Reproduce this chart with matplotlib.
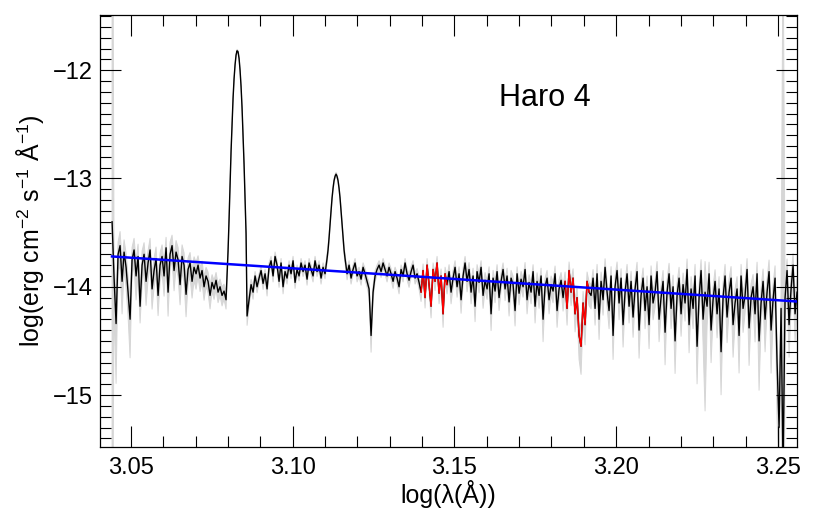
#!/usr/bin/env python3
"""Haro 4 spectrum: log flux vs log wavelength, with error band,
masked regions in red and the continuum fit in blue."""
import numpy as np
import matplotlib; matplotlib.use("Agg")
import matplotlib.pyplot as plt
from matplotlib.ticker import MultipleLocator

plt.rcParams["font.family"] = ["Liberation Sans", "DejaVu Sans"]
plt.rcParams["mathtext.fontset"] = "custom"
plt.rcParams["mathtext.rm"] = "Liberation Sans"
plt.rcParams["mathtext.it"] = "Liberation Sans:italic"

# --- spectrum pieces: (log lambda start, end), log flux, rel. error in %
rng_a = (3.04413, 3.07937)
flux_a = [-13.40, -13.92, -14.34, -13.70, -13.62, -13.95, -13.68, -13.82, -14.05, -14.30,
          -13.75, -13.66, -13.90, -13.72, -14.18, -13.80, -13.70, -13.95, -13.78, -13.66,
          -14.02, -13.85, -13.74, -14.08, -13.80, -13.72, -13.90, -13.64, -14.05, -13.70,
          -13.62, -13.85, -13.68, -13.75, -13.98, -13.72, -13.80, -14.07, -13.84, -13.78,
          -13.95, -13.82, -13.88, -13.80, -13.92, -13.85, -14.00, -13.90, -13.95, -14.08,
          -13.96, -14.02, -13.94, -14.05, -14.00, -14.08, -14.04, -14.12]
err_a = [1e7, 40, 72, 30, 35, 50, 30, 35, 40, 56,
         30, 28, 40, 30, 30, 35, 28, 40, 30, 28,
         35, 30, 28, 35, 30, 28, 35, 25, 40, 30,
         25, 35, 28, 30, 35, 28, 30, 38, 28, 25,
         30, 25, 28, 22, 25, 22, 25, 20, 22, 25,
         18, 20, 18, 20, 18, 20, 16, 18]

rng_l1 = (3.07999, 3.08556)
flux_l1 = [-13.67, -13.38, -13.05, -12.75, -12.50, -12.26, -12.08, -11.95, -11.86, -11.82,
           -11.83, -11.89, -12.00, -12.15, -12.35, -12.60, -12.87, -13.19, -13.51]
err_l1 = [10, 8, 6, 5, 4, 4, 3, 3, 3, 3, 3, 3, 3, 4, 4, 5, 6, 8, 10]

rng_b = (3.08587, 3.10998)
flux_b = [-14.27, -14.12, -13.98, -14.05, -13.90, -14.00, -13.92, -13.85, -13.97, -13.88,
          -14.02, -13.82, -13.76, -13.90, -13.72, -13.80, -13.95, -13.78, -14.00, -13.86,
          -13.92, -13.80, -13.88, -13.76, -13.96, -13.84, -13.90, -13.78, -13.86, -13.80,
          -13.93, -13.78, -13.84, -13.90, -13.76, -13.86, -13.80, -13.92, -13.82, -13.88]
err_b = [18, 14, 12, 14, 10, 12, 10, 10, 12, 10,
         14, 10, 10, 12, 10, 10, 12, 10, 14, 10,
         12, 10, 10, 10, 12, 10, 10, 10, 10, 10,
         12, 10, 10, 12, 10, 10, 10, 12, 10, 10]

rng_l2 = (3.11060, 3.11617)
flux_l2 = [-13.74, -13.66, -13.55, -13.42, -13.30, -13.18, -13.09, -13.02, -12.98, -12.96,
           -12.98, -13.02, -13.09, -13.18, -13.30, -13.42, -13.55, -13.66, -13.74]
err_l2 = [10, 9, 8, 7, 6, 5, 5, 4, 4, 4, 4, 4, 5, 5, 6, 7, 8, 9, 10]

rng_c = (3.11679, 3.25593)
flux_c = [-13.88, -13.80, -13.92, -13.84, -13.78, -13.90, -13.86, -13.93, -13.82, -13.88,
          -13.95, -14.02, -14.45, -14.05, -13.90, -13.84, -13.80, -13.86, -13.78, -13.84,
          -13.90, -13.82, -13.88, -13.95, -13.86, -13.92, -14.00, -13.84, -13.90, -13.78,
          -13.88, -13.94, -13.86, -13.80, -13.92, -13.88, -13.96,
          # first masked window
          -14.05, -13.85, -14.10, -13.80, -13.98, -14.18, -13.84, -13.95, -13.78, -14.06,
          -13.90, -14.25, -13.88, -13.98,
          -13.86, -14.05, -13.92, -13.82, -14.00, -13.88, -14.12, -13.90, -13.78, -13.95,
          -13.84, -14.05, -13.90, -14.18, -13.86, -13.96, -13.82, -14.08, -13.94, -14.02,
          -13.88, -14.25, -13.92, -14.04, -13.86, -14.10, -13.95, -13.84, -14.02, -13.90,
          -14.14, -13.92, -13.98, -14.22, -13.88, -14.06, -13.93, -14.00, -13.84, -14.12,
          -13.96, -14.05, -13.86, -14.18, -13.95, -14.08, -13.90, -14.30, -14.00, -13.92,
          -14.12, -13.98, -14.04, -13.88, -14.22, -14.02, -13.94, -14.10,
          # second masked window
          -13.95, -14.20, -13.85, -14.05, -13.92, -14.25, -14.10, -14.45, -14.55, -14.15,
          -14.35, -13.95, -14.05,
          -14.08, -13.92, -14.20, -13.88, -14.30, -13.95, -14.12, -13.82, -14.05, -14.22,
          -13.90, -14.45, -14.00, -13.85, -14.15, -13.92, -14.35, -14.05, -13.88, -14.18,
          -13.95, -14.28, -14.02, -13.86, -14.40, -14.08, -13.92, -14.22, -14.00, -14.35,
          -13.90, -14.15, -14.05, -13.86, -14.30, -14.10, -13.95, -14.42, -14.05, -13.88,
          -14.20, -14.00, -14.50, -14.08, -13.92, -14.25, -13.98, -14.15, -13.84, -14.35,
          -14.02, -14.20, -13.90, -14.55, -14.10, -13.85, -14.30, -14.05, -14.18, -13.88,
          -14.40, -14.12, -13.95, -14.25, -14.02, -14.60, -14.10, -13.90, -14.28, -14.05,
          -13.92, -14.35, -14.15, -14.02, -14.45, -13.90, -14.20, -14.08, -13.84, -14.38,
          -14.10, -14.00, -14.25, -13.88, -14.50, -14.15, -13.95, -14.30, -14.05, -13.86,
          -14.40, -14.12, -13.92, -14.70, -15.30, -14.20, -15.70, -14.10, -13.85, -14.35,
          -14.02, -13.80, -14.25, -14.05]
err_c = [12, 10, 12, 10, 10, 12, 10, 12, 10, 12,
         12, 15, 30, 15, 12, 10, 10, 12, 10, 10,
         12, 10, 12, 14, 10, 12, 14, 10, 12, 10,
         12, 14, 12, 10, 12, 12, 14,
         18, 15, 20, 15, 16, 22, 15, 18, 15, 20,
         16, 25, 15, 18,
         16, 22, 18, 15, 20, 16, 25, 18, 15, 20,
         16, 22, 18, 28, 16, 20, 15, 24, 18, 20,
         16, 30, 18, 22, 16, 24, 18, 15, 22, 18,
         26, 18, 20, 28, 16, 22, 18, 20, 16, 26,
         18, 22, 16, 30, 20, 24, 18, 38, 20, 18,
         26, 20, 22, 18, 30, 22, 18, 25,
         22, 30, 20, 25, 22, 32, 25, 40, 45, 28,
         35, 22, 25,
         25, 20, 30, 22, 35, 22, 28, 20, 26, 32,
         22, 40, 25, 20, 30, 22, 38, 25, 22, 30,
         24, 35, 26, 22, 45, 28, 24, 32, 26, 40,
         24, 30, 28, 24, 38, 30, 26, 50, 30, 25,
         35, 28, 50, 30, 26, 38, 28, 32, 25, 45,
         30, 35, 28, 55, 32, 26, 40, 92, 35, 28,
         50, 32, 28, 40, 30, 60, 35, 28, 42, 32,
         28, 50, 35, 30, 55, 28, 40, 32, 26, 55,
         35, 30, 45, 28, 65, 38, 30, 50, 32, 28,
         60, 38, 30, 70, 60, 40, 1e7, 35, 28, 50,
         35, 28, 45, 35]

masked_windows = [(3.1395, 3.1478), (3.1840, 3.1918)]
cont_x = [3.0441, 3.2559]
cont_y = [-13.72, -14.136]

pieces = [(rng_a, flux_a, err_a), (rng_l1, flux_l1, err_l1), (rng_b, flux_b, err_b),
          (rng_l2, flux_l2, err_l2), (rng_c, flux_c, err_c)]
lam = np.concatenate([np.linspace(r[0], r[1], len(f)) for r, f, e in pieces])
flux = np.concatenate([np.array(f) for r, f, e in pieces])
rel = np.concatenate([np.array(e, float) for r, f, e in pieces]) / 100.
hi = flux + np.log10(1 + rel)
lo = flux + np.log10(np.clip(1 - rel, 1e-4, None))

fig = plt.figure(figsize=(8.3, 5.19), dpi=100)
ax = fig.add_axes([0.1205, 0.1387, 0.8397, 0.8324])
ax.fill_between(lam, lo, hi, color="#d6d6d6", lw=0.7, ec="#d6d6d6", zorder=1)
ax.plot(lam, flux, color="k", lw=1.0, zorder=2)
m = np.zeros(len(lam), bool)
for a, b in masked_windows:
    m |= (lam >= a) & (lam <= b)
ax.plot(lam, np.where(m, flux, np.nan), color="#ff0000", lw=1.0, zorder=3)
ax.plot(cont_x, cont_y, color="#0000ff", lw=1.8, zorder=4)

ax.text(3.178, -12.255, "Haro 4", fontsize=22, ha="center", va="center")
ax.set_xlim(3.0404, 3.2559)
ax.set_ylim(-15.48, -11.49)
ax.xaxis.set_major_locator(MultipleLocator(0.05))
ax.xaxis.set_minor_locator(MultipleLocator(0.01))
ax.yaxis.set_major_locator(MultipleLocator(1))
ax.yaxis.set_minor_locator(MultipleLocator(0.1))
ax.tick_params(which="both", direction="in", top=True, right=True, width=0.8,
               labelsize=17)
ax.tick_params(which="major", length=15)
ax.tick_params(which="minor", length=8)
ax.tick_params(axis="x", pad=7)
ax.tick_params(axis="y", pad=5)
for s in ax.spines.values():
    s.set_linewidth(0.9)
ax.set_xlabel("log(λ(Å))", fontsize=18, labelpad=1)
ax.set_ylabel(r"log(erg cm$^{-2}$ s$^{-1}$ Å$^{-1}$)", fontsize=18, labelpad=5)
fig.savefig("out.png", dpi=100)
